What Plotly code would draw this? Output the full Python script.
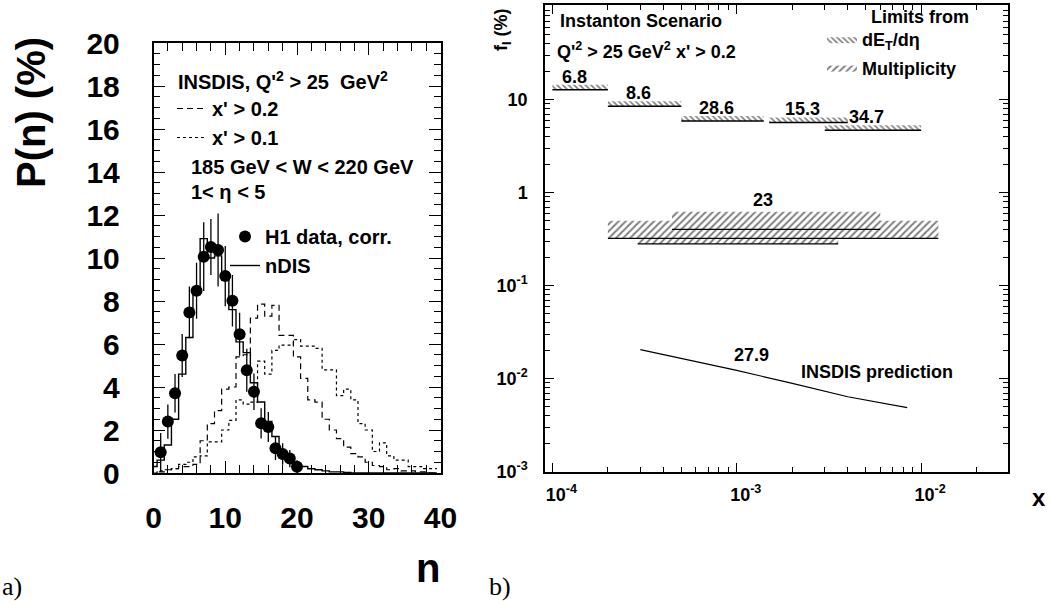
import math
import plotly.graph_objects as go

W, H = 1050, 601

# ---------------- panel a) : charged multiplicity P(n)
n_data = list(range(1, 21))
p_data = [0.96, 2.39, 3.71, 5.46, 7.47, 8.48, 10.06, 10.51, 10.37, 9.16,
          8.01, 6.45, 4.78, 3.78, 2.31, 2.14, 1.15, 0.88, 0.67, 0.29]
p_err = [0.9, 0.8, 0.9, 1.0, 1.2, 1.3, 1.6, 1.3, 1.7, 1.4,
         1.2, 1.0, 1.0, 0.85, 0.7, 0.7, 0.55, 0.5, 0.4, 0.3]

n_bins = list(range(0, 40))
p_ndis = [0.3, 0.6, 1.3, 2.5, 4.6, 6.3, 8.3, 10.9, 10.0, 10.1,
          9.0, 7.6, 6.1, 5.6, 4.2, 3.3, 2.4, 1.7, 1.0, 0.6,
          0.4, 0.3, 0.2, 0.15, 0.1, 0.05, 0.05, 0.02, 0.0, 0.0,
          0.0, 0.0, 0.0, 0.0, 0.0, 0.0, 0.0, 0.0, 0.0, 0.0]
p_x02 = [0.0, 0.05, 0.15, 0.2, 0.3, 0.3, 0.4, 1.5, 2.3, 2.9,
         3.9, 4.0, 5.4, 5.5, 7.2, 7.85, 7.3, 7.8, 6.4, 6.4,
         5.4, 4.4, 3.4, 3.3, 2.5, 2.0, 1.6, 1.2, 0.9, 0.75,
         0.5, 0.35, 0.3, 0.15, 0.2, 0.1, 0.1, 0.05, 0.05, 0.0]
p_x01 = [0.0, 0.1, 0.15, 0.2, 0.4, 0.5, 0.75, 0.8, 1.45, 1.45,
         2.0, 2.45, 3.4, 3.2, 3.3, 5.2, 4.6, 5.7, 5.95, 5.95,
         6.2, 5.9, 5.9, 5.8, 4.8, 4.8, 3.6, 3.9, 3.4, 2.3,
         2.0, 1.0, 1.4, 0.8, 0.6, 0.6, 0.3, 0.3, 0.2, 0.2]

# ---------------- panel b) : instanton fraction limits
et_xlo = [1e-4, 2e-4, 5e-4, 1.5e-3, 3e-3]
et_xhi = [2e-4, 5e-4, 1.4e-3, 4e-3, 1e-2]
et_lim = [12.8, 8.5, 5.9, 5.7, 4.7]
et_lab = ["6.8", "8.6", "28.6", "15.3", "34.7"]

mu_xlo = [2e-4, 4.45e-4, 2.9e-4]
mu_xhi = [1.24e-2, 6e-3, 3.55e-3]
mu_lo = [0.323, 0.323, 0.281]
mu_hi = [0.50, 0.625, 0.323]
mu_mid = 0.404
mu_lab = "23"

ins_x = [3e-4, 1e-3, 1.95e-3, 4e-3, 8.4e-3]
ins_f = [0.0205, 0.0123, 0.0090, 0.0064, 0.00488]
ins_lab = "27.9"

FONT = "Liberation Sans, Arial, sans-serif"
SERIF = "Liberation Serif, DejaVu Serif, serif"


def fx(px):
    return px / W


def fy(py):
    return 1 - py / H


def steps(bins, vals):
    xs = [b - 0.5 for b in bins] + [bins[-1] + 0.5]
    ys = list(vals) + [vals[-1]]
    return xs, ys


fig = go.Figure()

# left panel histograms
for vals, dash, name, leg in [(p_x02, "6px,4px", "x' > 0.2", "legend"),
                              (p_x01, "dot", "x' > 0.1", "legend")]:
    xs, ys = steps(n_bins, vals)
    fig.add_trace(go.Scatter(x=xs, y=ys, mode="lines", line_shape="hv",
                             line=dict(color="black", width=1.2, dash=dash),
                             name=name, legend=leg, legendgroup=name,
                             xaxis="x", yaxis="y"))

fig.add_trace(go.Scatter(x=n_data, y=p_data, mode="markers",
                         marker=dict(color="black", size=12),
                         error_y=dict(array=p_err, width=0, thickness=1.3, color="black"),
                         name="H1 data, corr.", legend="legend2", legendgroup="h1",
                         xaxis="x", yaxis="y"))
xs, ys = steps(n_bins, p_ndis)
fig.add_trace(go.Scatter(x=xs, y=ys, mode="lines", line_shape="hv",
                         line=dict(color="black", width=1.4),
                         name="nDIS", legend="legend2", legendgroup="ndis",
                         xaxis="x", yaxis="y"))

# right panel: dE_T/deta limits (thin hatched bands above the limit)
HATCH_PX, DEC_PX = 5, 93.0
bx, by, lx, ly = [], [], [], []
for lo, hi, f in zip(et_xlo, et_xhi, et_lim):
    top = f * 10 ** (HATCH_PX / DEC_PX)
    bx += [lo, hi, hi, lo, lo, None]
    by += [f, f, top, top, f, None]
    lx += [lo, hi, None]
    ly += [f, f, None]
fig.add_trace(go.Scatter(x=bx, y=by, mode="lines", fill="toself",
                         line=dict(width=0, color="black"),
                         fillcolor="rgba(0,0,0,0)",
                         fillpattern=dict(shape="\\", size=4, solidity=0.4,
                                          fgcolor="black", bgcolor="rgba(0,0,0,0)"),
                         name="dE<sub>T</sub>/dη", legend="legend3", legendgroup="et",
                         xaxis="x2", yaxis="y2"))
fig.add_trace(go.Scatter(x=lx, y=ly, mode="lines", line=dict(color="black", width=1.5),
                         showlegend=False, xaxis="x2", yaxis="y2"))

# multiplicity limits
mx, my = [], []
for lo, hi, a, b in zip(mu_xlo, mu_xhi, mu_lo, mu_hi):
    mx += [lo, hi, hi, lo, lo, None]
    my += [a, a, b, b, a, None]
fig.add_trace(go.Scatter(x=mx, y=my, mode="lines", fill="toself",
                         line=dict(width=0, color="black"),
                         fillcolor="rgba(0,0,0,0)",
                         fillpattern=dict(shape="/", size=5, solidity=0.4,
                                          fgcolor="black", bgcolor="rgba(0,0,0,0)"),
                         name="Multiplicity", legend="legend3", legendgroup="mu",
                         xaxis="x2", yaxis="y2"))
fig.add_trace(go.Scatter(x=[mu_xlo[0], mu_xhi[0], None, mu_xlo[2], mu_xhi[2], None, mu_xlo[1], mu_xhi[1]],
                         y=[mu_lo[0], mu_lo[0], None, mu_lo[2], mu_lo[2], None, mu_mid, mu_mid],
                         mode="lines", line=dict(color="black", width=1.2),
                         showlegend=False, xaxis="x2", yaxis="y2"))

# INSDIS prediction
fig.add_trace(go.Scatter(x=ins_x, y=ins_f, mode="lines", line=dict(color="black", width=1.2),
                         showlegend=False, xaxis="x2", yaxis="y2"))

tickfont_big = dict(family=FONT, size=30, color="black", weight="bold")
tickfont_sm = dict(family=FONT, size=18, color="black", weight="bold")

minor_x = [k * 10.0 ** e for e in range(-5, 0) for k in range(2, 10)]
minor_y = [k * 10.0 ** e for e in range(-3, 3) for k in range(2, 10)]

ax_common = dict(showline=True, linecolor="black", linewidth=1.5, mirror="allticks",
                 ticks="inside", tickcolor="black", showgrid=False, zeroline=False,
                 automargin=False)

fig.update_layout(
    width=W, height=H,
    margin=dict(l=0, r=0, t=0, b=0, autoexpand=False),
    paper_bgcolor="white", plot_bgcolor="white",
    font=dict(family=FONT, color="black"),
    xaxis=dict(domain=[fx(153.5), fx(440.5)], range=[0, 40], anchor="y",
               tickvals=[0, 10, 20, 30, 40], ticklen=12, tickwidth=1.2,
               minor=dict(dtick=2, ticklen=8, ticks="inside", tickcolor="black"),
               tickfont=tickfont_big, ticklabelstandoff=17, **ax_common),
    yaxis=dict(domain=[fy(473), fy(43)], range=[0, 20], anchor="x",
               dtick=2, ticklen=12, tickwidth=1.2,
               minor=dict(dtick=0.5, ticklen=7, ticks="inside", tickcolor="black"),
               tickfont=tickfont_big, ticklabelstandoff=26, **ax_common),
    xaxis2=dict(domain=[fx(545), fx(1008)], type="log", range=[-4.04, -1.529], anchor="y2",
                tickvals=[1e-4, 1e-3, 1e-2],
                ticktext=["10<sup>-4</sup>", "10<sup>-3</sup>", "10<sup>-2</sup>"],
                ticklen=9, tickwidth=1.2,
                minor=dict(tickmode="array", tickvals=minor_x, ticklen=5, ticks="inside",
                           tickcolor="black"),
                tickfont=tickfont_sm, ticklabelstandoff=6, ticklabelshift=9, **ax_common),
    yaxis2=dict(domain=[fy(471.7), fy(5)], type="log", range=[-3, 2.018], anchor="x2",
                tickvals=[1e-3, 1e-2, 1e-1, 1, 10],
                ticktext=["10<sup>-3</sup>", "10<sup>-2</sup>", "10<sup>-1</sup>", "1", "10"],
                ticklen=9, tickwidth=1.2,
                minor=dict(tickmode="array", tickvals=minor_y, ticklen=5, ticks="inside",
                           tickcolor="black"),
                tickfont=tickfont_sm, ticklabelstandoff=12, **ax_common),
    legend=dict(x=fx(172), y=fy(89), xanchor="left", yanchor="top",
                bgcolor="rgba(0,0,0,0)", tracegroupgap=0,
                font=dict(family=FONT, size=20, weight="bold")),
    legend2=dict(x=fx(225), y=fy(217), xanchor="left", yanchor="top",
                 bgcolor="rgba(0,0,0,0)", tracegroupgap=0,
                 font=dict(family=FONT, size=20, weight="bold")),
    legend3=dict(x=fx(822), y=fy(21), xanchor="left", yanchor="top",
                 bgcolor="rgba(0,0,0,0)", tracegroupgap=2,
                 font=dict(family=FONT, size=18, weight="bold")),
)

ann = []


def txt(x, y, s, size=20, xanchor="left", angle=0, family=FONT, weight="bold"):
    ann.append(dict(x=fx(x), y=fy(y), xref="paper", yref="paper", text=s, showarrow=False,
                    xanchor=xanchor, yanchor="middle", textangle=angle,
                    font=dict(family=family, size=size, color="black", weight=weight)))


txt(176, 80, "INSDIS, Q'<sup>2</sup> > 25  GeV<sup>2</sup>")
txt(189, 167, "185 GeV < W < 220 GeV")
txt(189, 192, "1< η < 5")
txt(31, 113, "P(n) (%)", size=40, xanchor="center", angle=-90)
txt(428, 568, "n", size=40, xanchor="center")
txt(0, 586, "a)", size=26, family=SERIF, weight="normal")
txt(487, 586, "b)", size=26, family=SERIF, weight="normal")
txt(558, 21, "Instanton Scenario", size=18)
txt(555, 50, "Q'<sup>2</sup> > 25 GeV<sup>2</sup> x' > 0.2", size=18)
txt(920, 17, "Limits from", size=18, xanchor="center")
txt(1039, 497, "x", size=24, xanchor="center")
txt(503, 30, "f<sub>I</sub> (%)", size=18, xanchor="center", angle=-90)

for lo, hi, f, lab in zip(et_xlo, et_xhi, et_lim, et_lab):
    ann.append(dict(x=(math.log10(lo) + math.log10(hi)) / 2, y=math.log10(f), xref="x2", yref="y2",
                    text=lab, showarrow=False, xshift=-6, yshift=13,
                    font=dict(family=FONT, size=18, color="black", weight="bold")))
ann.append(dict(x=(math.log10(mu_xlo[1]) + math.log10(mu_xhi[1])) / 2, y=math.log10(mu_hi[1]),
                xref="x2", yref="y2", text=mu_lab, showarrow=False, xshift=-13, yshift=12,
                font=dict(family=FONT, size=18, color="black", weight="bold")))
ann.append(dict(x=math.log10(1.2e-3), y=math.log10(0.0178), xref="x2", yref="y2",
                text=ins_lab, showarrow=False,
                font=dict(family=FONT, size=18, color="black", weight="bold")))
ann.append(dict(x=math.log10(5.75e-3), y=math.log10(0.0118), xref="x2", yref="y2",
                text="INSDIS prediction", showarrow=False,
                font=dict(family=FONT, size=18, color="black", weight="bold")))

fig.update_layout(annotations=ann)

fig.write_html("out.html", config={"displayModeBar": False},
               post_script="document.body.style.margin='0';document.body.style.overflow='hidden';")
